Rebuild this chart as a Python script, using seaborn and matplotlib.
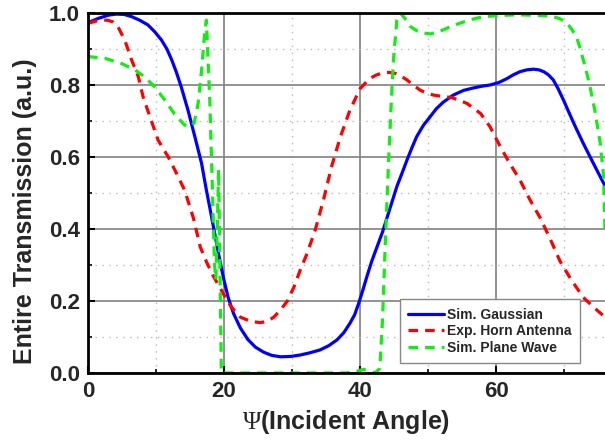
import numpy as np
import pandas as pd
import seaborn as sns
import matplotlib
matplotlib.use("Agg")
import matplotlib.pyplot as plt
from matplotlib.ticker import MultipleLocator

# ---- data ----
gauss_x = [0, 1.5, 3, 4.2, 5.3, 6.4, 7.6, 8.8, 9.8, 10.8, 11.6, 12.3, 13.0, 13.7, 14.7, 15.7,
           16.7, 17.4, 17.9, 18.5, 19.2, 19.9, 20.6, 21.4, 22.4, 23.5, 24.6, 25.8, 27.0, 28.3,
           29.8, 31.2, 32.6, 34.1, 35.4, 36.6, 37.6, 38.5, 39.2, 39.8, 40.4, 41.0, 41.7, 42.5,
           43.3, 44.0, 44.7, 45.4, 46.2, 46.9, 47.6, 48.3, 49.3, 50.3, 51.2, 52.2, 53.7, 55.2,
           56.7, 58.0, 59.1, 60.4, 61.6, 62.5, 63.5, 64.5, 65.5, 66.3, 67.0, 67.7, 68.4, 69.1,
           69.9, 71.4, 72.8, 74.3, 75.8, 76]
gauss_y = [0.973, 0.985, 0.994, 0.997, 0.996, 0.99, 0.98, 0.967, 0.948, 0.925, 0.9, 0.87, 0.835,
           0.795, 0.73, 0.657, 0.582, 0.508, 0.46, 0.40, 0.33, 0.265, 0.21, 0.165, 0.125, 0.093,
           0.072, 0.058, 0.049, 0.045, 0.046, 0.05, 0.056, 0.064, 0.076, 0.092, 0.112, 0.138,
           0.162, 0.194, 0.23, 0.268, 0.31, 0.351, 0.392, 0.434, 0.476, 0.518, 0.557, 0.592,
           0.625, 0.656, 0.688, 0.712, 0.734, 0.752, 0.772, 0.785, 0.792, 0.797, 0.80, 0.807,
           0.818, 0.828, 0.837, 0.842, 0.844, 0.842, 0.837, 0.828, 0.814, 0.79, 0.758, 0.694,
           0.638, 0.582, 0.527, 0.52]

horn_x = [0, 1.0, 2.0, 2.9, 3.7, 4.4, 5.4, 6.4, 7.4, 8.1, 9.1, 10.3, 11.8, 13.0, 14.2, 15.5,
          16.5, 17.5, 18.4, 19.9, 21.0, 22.4, 24.0, 25.3, 26.3, 27.3, 28.3, 29.3, 30.3, 31.2,
          32.2, 33.4, 34.6, 35.8, 37.1, 38.5, 40.0, 41.4, 42.4, 43.4, 44.3, 45.2, 46.0, 46.9,
          47.8, 48.8, 49.8, 50.8, 51.8, 52.7, 53.5, 54.2, 55.7, 57.7, 59.1, 60.6, 62.0, 63.5,
          65.0, 66.5, 68.0, 69.4, 71.0, 72.8, 74.5, 76]
horn_y = [0.971, 0.977, 0.98, 0.98, 0.975, 0.962, 0.925, 0.87, 0.823, 0.767, 0.712, 0.647,
          0.60, 0.555, 0.508, 0.43, 0.35, 0.305, 0.27, 0.22, 0.185, 0.155, 0.143, 0.14, 0.143,
          0.155, 0.175, 0.20, 0.24, 0.286, 0.332, 0.397, 0.48, 0.573, 0.656, 0.73, 0.79, 0.818,
          0.828, 0.834, 0.835, 0.832, 0.825, 0.814, 0.80, 0.786, 0.777, 0.772, 0.769, 0.767,
          0.765, 0.76, 0.749, 0.721, 0.684, 0.629, 0.582, 0.536, 0.48, 0.43, 0.37, 0.31,
          0.26, 0.21, 0.18, 0.155]

plane_x = [0, 2.5, 4.9, 6.9, 8.3, 9.8, 11.3, 12.7, 14.2, 15.0, 15.6, 16.2, 16.7, 17.1, 17.4,
           17.9, 18.3, 18.6, 18.8, 19.0, 19.2, 19.35, 19.5, 19.6, 20, 25, 30, 35, 38, 39.5,
           40.5, 41.5, 42.2, 42.9, 43.3, 43.7, 44.2, 44.6, 44.9, 45.4, 45.9, 46.6, 47.4, 48.4,
           49.4, 50.3, 51.2, 52.2, 53.4, 54.7, 56.4, 58.1, 59.8, 61.6, 63.3, 65.0, 66.7, 68.4,
           69.5, 70.4, 71.1, 71.8, 72.3, 72.8, 73.3, 73.8, 74.5, 75.3, 75.8, 76]
plane_y = [0.879, 0.874, 0.86, 0.842, 0.823, 0.795, 0.758, 0.72, 0.689, 0.684, 0.694, 0.75,
           0.842, 0.934, 0.98, 0.76, 0.50, 0.30, 0.26, 0.40, 0.565, 0.35, 0.15, 0.0, 0, 0, 0,
           0, 0, 0.005, 0.01, 0.005, 0.0, 0.013, 0.15, 0.36, 0.594, 0.76, 0.87, 0.98, 1.0,
           0.985, 0.962, 0.95, 0.944, 0.942, 0.946, 0.953, 0.963, 0.972, 0.982, 0.99, 0.992,
           0.994, 0.995, 0.994, 0.993, 0.99, 0.983, 0.972, 0.955, 0.934, 0.905, 0.87, 0.835,
           0.795, 0.73, 0.638, 0.545, 0.39]

labels = ["Sim. Gaussian", "Exp. Horn Antenna", "Sim. Plane Wave"]
x_ticks = [0, 20, 40, 60]
y_ticks = [0.0, 0.2, 0.4, 0.6, 0.8, 1.0]

sns.set_theme(style="white")
plt.rcParams['font.family'] = ['Liberation Sans', 'DejaVu Sans']
plt.rcParams['mathtext.fontset'] = 'custom'
plt.rcParams['mathtext.rm'] = 'Liberation Serif'
plt.rcParams['mathtext.it'] = 'Liberation Serif:italic'

fig = plt.figure(figsize=(6.05, 4.42), dpi=100)
ax = fig.add_axes([88 / 605, 69 / 442, 517 / 605, 360 / 442])

lw = 2.3
sns.lineplot(x=gauss_x, y=gauss_y, ax=ax, color="#0000ff", linewidth=lw, sort=False,
             estimator=None, label=labels[0])
sns.lineplot(x=horn_x, y=horn_y, ax=ax, color="#ff0000", linewidth=lw, sort=False,
             estimator=None, label=labels[1])
sns.lineplot(x=plane_x, y=plane_y, ax=ax, color="#11ee11", linewidth=lw, sort=False,
             estimator=None, label=labels[2])
ax.lines[1].set_dashes([3.0, 2.2])
ax.lines[2].set_dashes([3.0, 2.2])
for ln in ax.lines:
    ln.set_solid_joinstyle("round")
    ln.set_dash_joinstyle("round")

ax.set_xlim(0, 76)
ax.set_ylim(0, 1.0)
ax.set_xticks(x_ticks)
ax.set_yticks(y_ticks)
ax.set_yticklabels([f"{v:.1f}" for v in y_ticks])
ax.xaxis.set_minor_locator(MultipleLocator(10))
ax.yaxis.set_minor_locator(MultipleLocator(0.1))

ax.grid(True, which="major", color="#8a8a8a", linewidth=1.3, linestyle="-")
ax.grid(True, which="minor", color="#b8b8b8", linewidth=1.0, linestyle=(0, (1, 4)))
ax.set_axisbelow(True)

for s in ["left", "bottom", "top"]:
    ax.spines[s].set_visible(True)
    ax.spines[s].set_color("black")
    ax.spines[s].set_linewidth(2.0)
ax.spines["right"].set_visible(False)

ax.tick_params(axis="both", which="major", direction="in", length=5, width=1.5,
               labelsize=16, pad=6, color="black", left=True, bottom=True)
ax.tick_params(axis="both", which="minor", direction="in", length=3, width=1.2,
               color="black", left=True, bottom=True)
for t in ax.get_xticklabels() + ax.get_yticklabels():
    t.set_fontweight("bold")

ax.set_xlabel(r"$\Psi$(Incident Angle)", fontsize=18, fontweight="bold", labelpad=4)
ax.set_ylabel("Entire Transmission (a.u.)", fontsize=18, fontweight="bold")
ax.yaxis.set_label_coords(-0.098, 0.45)

leg = ax.legend(loc="lower right", bbox_to_anchor=(492 / 517, 10 / 360), borderaxespad=0,
                fancybox=False, framealpha=1, edgecolor="#888888", handlelength=2.6,
                handletextpad=0.2, borderpad=0.6, labelspacing=0.18,
                prop={"weight": "bold", "size": 10})
leg.get_frame().set_linewidth(1.0)

fig.savefig("out.png", dpi=100)
